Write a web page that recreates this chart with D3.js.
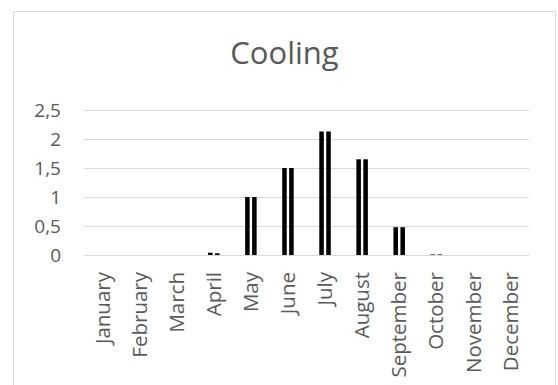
<!DOCTYPE html>
<html>
<head>
<meta charset="utf-8">
<script src="https://cdn.jsdelivr.net/npm/d3@7"></script>
<style>
  html, body { margin: 0; padding: 0; background: #fff; }
  svg { display: block; font-family: "Open Sans", sans-serif; }
</style>
</head>
<body>
<svg id="chart" width="558" height="385"></svg>
<script>
// Monthly cooling demand, two series per month
const months = ["January", "February", "March", "April", "May", "June",
                "July", "August", "September", "October", "November", "December"];
const seriesA = [0, 0, 0, 0.04, 1.0, 1.5, 2.13, 1.65, 0.48, 0.01, 0, 0];
const seriesB = [0, 0, 0, 0.03, 1.0, 1.5, 2.13, 1.65, 0.48, 0.01, 0, 0];
const yTicks = [0, 0.5, 1, 1.5, 2, 2.5];
const titleText = "Cooling";

const series = [seriesA, seriesB];
const svg = d3.select("#chart");
const textColor = "#595959";
const gridColor = "#d9d9d9";

// Chart frame
svg.append("rect")
  .attr("x", 13.5).attr("y", 11.5)
  .attr("width", 542).attr("height", 400)
  .attr("fill", "#fff").attr("stroke", gridColor).attr("stroke-width", 1);

const plot = { left: 84, right: 529, top: 110, bottom: 255 };

const x = d3.scaleBand().domain(months).range([plot.left, plot.right]).padding(0);
const y = d3.scaleLinear().domain([0, 2.5]).range([plot.bottom, plot.top]);

// Title
svg.append("text")
  .attr("x", 284.5).attr("y", 64)
  .attr("text-anchor", "middle")
  .attr("font-size", 31)
  .attr("fill", textColor)
  .text(titleText);

// Gridlines
svg.append("g").selectAll("line").data(yTicks).join("line")
  .attr("x1", plot.left).attr("x2", plot.right)
  .attr("y1", d => Math.round(y(d)) + 0.5).attr("y2", d => Math.round(y(d)) + 0.5)
  .attr("stroke", gridColor).attr("stroke-width", 1.2);

// Y axis labels
const yAxis = d3.axisLeft(y).tickValues(yTicks).tickSize(0).tickPadding(0)
  .tickFormat(d => String(d).replace(".", ","));
svg.append("g").attr("transform", `translate(61,0)`).call(yAxis)
  .call(g => g.select(".domain").remove())
  .call(g => g.selectAll("text").attr("font-size", 19).attr("fill", textColor)
    .attr("font-family", "Open Sans, sans-serif"));

// Bars: two series clustered within each month
const pairWidth = 11.5;
const x1 = d3.scaleBand().domain(d3.range(series.length)).range([0, pairWidth]).paddingInner(0.35);
const barData = [];
months.forEach((m, i) => series.forEach((s, k) => barData.push({ m, k, v: s[i] })));

svg.append("g").selectAll("rect").data(barData).join("rect")
  .attr("x", d => x(d.m) + x.bandwidth() / 2 - pairWidth / 2 + x1(d.k))
  .attr("width", x1.bandwidth())
  .attr("y", d => y(d.v))
  .attr("height", d => y(0) - y(d.v))
  .attr("fill", "#000");

// X axis labels, rotated
const xAxis = d3.axisBottom(x).tickSize(0).tickPadding(0);
svg.append("g").attr("transform", `translate(0,${plot.bottom})`).call(xAxis)
  .call(g => g.select(".domain").remove())
  .call(g => g.selectAll("text")
    .attr("font-size", 20.5).attr("fill", textColor)
    .attr("font-family", "Open Sans, sans-serif")
    .attr("text-anchor", "end")
    .attr("transform", "rotate(-90)")
    .attr("x", -17).attr("y", 0).attr("dy", "0.35em"));
</script>
</body>
</html>
